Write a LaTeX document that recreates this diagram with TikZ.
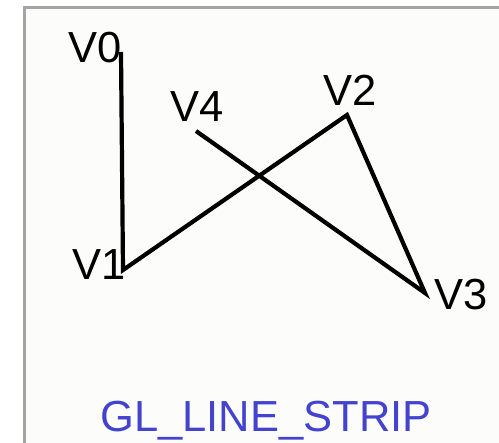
\documentclass[tikz,border=0pt]{standalone}
\usepackage{fontspec}
\setmainfont{Liberation Sans}
\usepackage{xcolor}
\usetikzlibrary{positioning}

\begin{document}
\begin{tikzpicture}[
    x=1pt, y=-1pt,
    font=\fontsize{43.5}{48}\selectfont,
    vlabel/.style={inner sep=0pt, anchor=base, text=black},
    strip/.style={line width=4.2pt, line join=miter, draw=black},
    frameline/.style={draw=framegray, line width=3pt},
  ]
  \definecolor{panelfill}{HTML}{FCFDFB}
  \definecolor{framegray}{HTML}{A2A5A2}
  \definecolor{titleblue}{HTML}{4343CF}

  \useasboundingbox (0,0) rectangle (499,443);

  % ========================= PANEL =========================
  \fill[panelfill] (24,8) rectangle (499,443);
  \draw[frameline] (24,443) -- (24,8) -- (499,8);

  % ======================== VERTICES =======================
  \coordinate (v0) at (121,52);
  \coordinate (v1) at (123,270);
  \coordinate (v2) at (347,115);
  \coordinate (v3) at (425,293);
  \coordinate (v4) at (196,131);

  % ========================= LABELS ========================
  \node[vlabel] (l0) at (95,63)  {V0};
  \node[vlabel] (l1) at (99,280) {V1};
  \node[vlabel] (l2) at (350,106) {V2};
  \node[vlabel] (l3) at (461,310) {V3};
  \node[vlabel] (l4) at (197,122) {V4};

  % ========================= STRIP =========================
  \draw[strip] (v0) -- (v1) -- (v2) -- (v3) -- (v4);

  % ========================= TITLE =========================
  \node[vlabel, text=titleblue] (title) at (266,432) {GL\_LINE\_STRIP};
\end{tikzpicture}
\end{document}
